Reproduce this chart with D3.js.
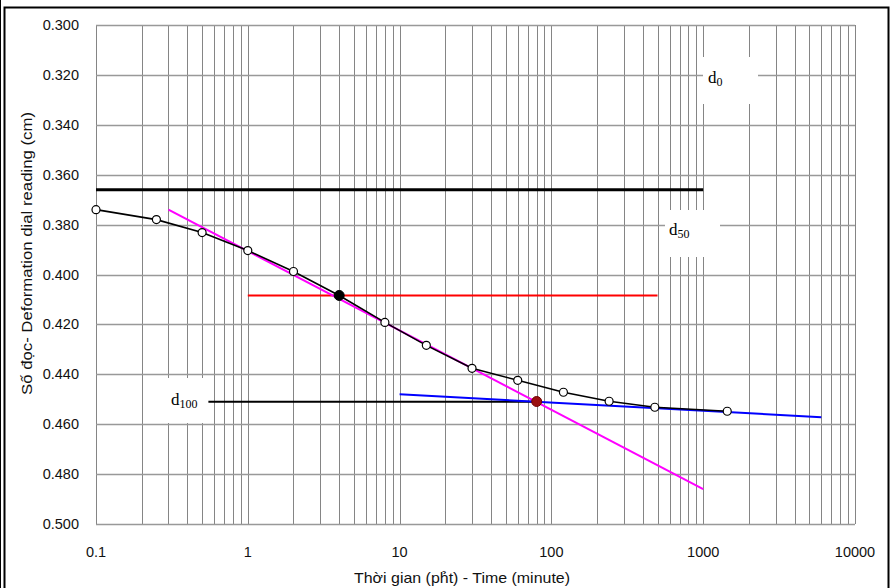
<!DOCTYPE html>
<html><head><meta charset="utf-8">
<script src="https://cdn.jsdelivr.net/npm/d3@7"></script>
<style>body{margin:0;background:#fff}svg{display:block}</style>
</head><body><svg id="c" width="891" height="588"></svg>
<script>
// ---- data ----
const times = [0.1, 0.25, 0.5, 1, 2, 4, 8, 15, 30, 60, 120, 240, 480, 1440];
const readings = [0.374, 0.378, 0.3832, 0.3904, 0.3988, 0.4084, 0.4192, 0.4284, 0.4376, 0.4424, 0.4472, 0.4508, 0.4532, 0.4548];
const t50 = [4];            const d50Point = [0.4084];
const t100 = [80];          const d100Point = [0.4509];
const tangentA = {t: [0.3, 1000], v: [0.374, 0.486]};   // magenta
const tangentB = {t: [10, 6000], v: [0.448, 0.4572]};   // blue
const d50Line = {t: [0.1, 1000], v: [0.366, 0.366]};    // thick black
const t50Line = {t: [1, 500], v: [0.4084, 0.4084]};     // red
const d100Line = {t: [0.55, 80], v: [0.451, 0.451]};    // black
const yTicks = [0.300, 0.320, 0.340, 0.360, 0.380, 0.400, 0.420, 0.440, 0.460, 0.480, 0.500];
const xTicks = [0.1, 1, 10, 100, 1000, 10000];
const xTickLabels = ["0.1", "1", "10", "100", "1000", "10000"];

const svg = d3.select("#c");
const x = d3.scaleLog().domain([0.1, 10000]).range([96, 855]);
const y = d3.scaleLinear().domain([0.3, 0.5]).range([25, 524]);

// frame
svg.append("line").attr("x1",0.5).attr("x2",0.5).attr("y1",0).attr("y2",588).attr("stroke","#000").attr("stroke-width",1);
svg.append("rect").attr("x",4.5).attr("y",7.5).attr("width",884).attr("height",590)
  .attr("fill","none").attr("stroke","#000").attr("stroke-width",2);

// grid
const minor = [];
for (let e = -1; e < 4; e++) for (let m = 1; m < 10; m++) minor.push(m * Math.pow(10, e));
minor.push(10000);
const g = svg.append("g");
g.selectAll(".vg").data(minor).join("line")
  .attr("x1", d => Math.round(x(d)) + 0.5).attr("x2", d => Math.round(x(d)) + 0.5)
  .attr("y1", y(0.3)).attr("y2", y(0.5)).attr("stroke", "#858585").attr("stroke-width", 1);
g.selectAll(".hg").data(yTicks).join("line")
  .attr("x1", x(0.1)).attr("x2", x(10000))
  .attr("y1", d => Math.round(y(d)) + 0.5).attr("y2", d => Math.round(y(d)) + 0.5)
  .attr("stroke", "#999").attr("stroke-width", 1.5);

// label boxes
const boxes = [[703,57,55,47],[665,210,55,47],[150,378,59,45]];
svg.selectAll(".bx").data(boxes).join("rect")
  .attr("x", d=>d[0]).attr("y", d=>d[1]).attr("width", d=>d[2]).attr("height", d=>d[3]).attr("fill","#fff");

// axes labels
const lf = "'Liberation Sans', Arial, sans-serif";
svg.selectAll(".yt").data(yTicks).join("text")
  .attr("x", 79).attr("y", d => y(d) + 5).attr("text-anchor","end")
  .attr("font-family", lf).attr("font-size", 14.5).attr("fill","#111")
  .text(d => d3.format(".3f")(d));
svg.selectAll(".xt").data(xTicks).join("text")
  .attr("x", d => x(d)).attr("y", 557).attr("text-anchor","middle")
  .attr("font-family", lf).attr("font-size", 14.5).attr("fill","#111")
  .text((d,i) => xTickLabels[i]);
svg.append("text").attr("x", 354).attr("y", 583)
  .attr("textLength", 216).attr("lengthAdjust","spacingAndGlyphs")
  .attr("font-family", lf).attr("font-size", 15).attr("fill","#111").text("Thời gian (ph\u0309t) - Time (minute)");
svg.append("text").attr("transform","translate(32,395) rotate(-90)")
  .attr("textLength", 283).attr("lengthAdjust","spacingAndGlyphs")
  .attr("font-family", lf).attr("font-size", 15).attr("fill","#111").text("Số đọc- Deformation dial reading (cm)");

// lines
const ln = (o, color, w) => svg.append("line")
  .attr("x1", x(o.t[0])).attr("x2", x(o.t[1])).attr("y1", y(o.v[0])).attr("y2", y(o.v[1]))
  .attr("stroke", color).attr("stroke-width", w);
ln(d50Line, "#000", 3);
ln(d100Line, "#000", 2);
ln(t50Line, "#ff0000", 2);
ln(tangentA, "#ff00ff", 2);
ln(tangentB, "#0000ff", 2);

const pts = times.map((t,i) => [t, readings[i]]);
svg.append("path").datum(pts)
  .attr("d", d3.line().x(d => x(d[0])).y(d => y(d[1])))
  .attr("fill","none").attr("stroke","#000").attr("stroke-width",1.6);
svg.selectAll(".pt").data(pts.filter(d => d[0] !== 4)).join("circle")
  .attr("cx", d => x(d[0])).attr("cy", d => y(d[1])).attr("r", 4)
  .attr("fill","#fff").attr("stroke","#000").attr("stroke-width",1.2);
svg.selectAll(".p50").data(t50.map((t,i)=>[t,d50Point[i]])).join("circle")
  .attr("cx", d => x(d[0])).attr("cy", d => y(d[1])).attr("r", 5)
  .attr("fill","#000").attr("stroke","#000");
svg.selectAll(".p100").data(t100.map((t,i)=>[t,d100Point[i]])).join("circle")
  .attr("cx", d => x(d[0])).attr("cy", d => y(d[1])).attr("r", 5)
  .attr("fill","#9a1010").attr("stroke","#700000").attr("stroke-width",1);

// d labels
const sf = "'Liberation Serif', 'Times New Roman', serif";
function dlab(xp, yp, sub) {
  const t = svg.append("text").attr("x", xp).attr("y", yp).attr("font-family", sf).attr("font-size", 17);
  t.append("tspan").text("d");
  t.append("tspan").attr("font-size", 12).attr("dy", 3).text(sub);
}
dlab(708, 83, "0");
dlab(669, 235, "50");
dlab(171, 405, "100");
</script></body></html>
